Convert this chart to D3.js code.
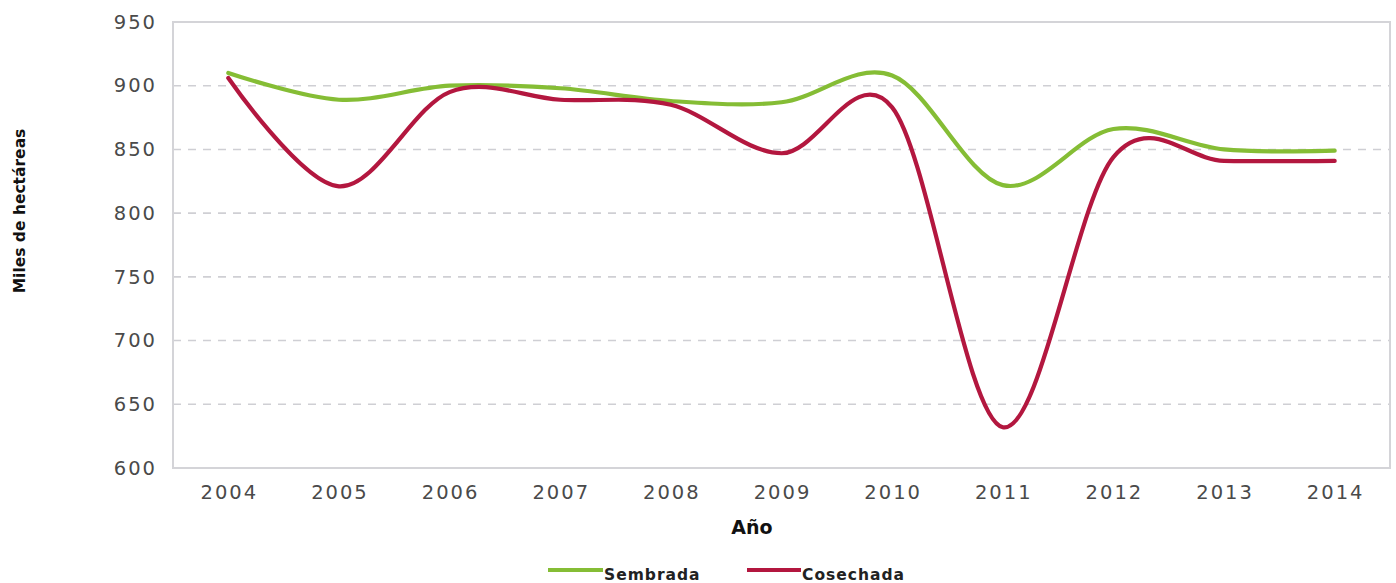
<!DOCTYPE html>
<html><head><meta charset="utf-8">
<script src="https://cdn.jsdelivr.net/npm/d3@7"></script>
<style>body{margin:0;background:#fff}svg{display:block}</style>
</head><body>
<svg id="c" width="1396" height="583"></svg>
<script>
const years = ["2004","2005","2006","2007","2008","2009","2010","2011","2012","2013","2014"];
const sembrada = [910, 889, 900, 898, 888, 887, 908, 822, 866, 850, 849];
const cosechada = [906, 821, 895, 889, 885, 847, 883, 632, 844, 841, 841];
const yTicks = [600, 650, 700, 750, 800, 850, 900, 950];
const seriesNames = ["Sembrada", "Cosechada"];
const colors = ["#85bd35", "#b3173f"];

const svg = d3.select("#c");
const L = 173, R = 1390, T = 22, B = 468;
const x = d3.scaleBand().domain(years).range([L, R]).padding(0);
const y = d3.scaleLinear().domain([600, 950]).range([B, T]);
const font = "'DejaVu Sans', sans-serif";

// gridlines
svg.append("g").selectAll("line").data(yTicks.filter(d => d > 600 && d < 950)).join("line")
  .attr("x1", L).attr("x2", R).attr("y1", d => y(d)).attr("y2", d => y(d))
  .attr("stroke", "#cfcfd4").attr("stroke-width", 1.6).attr("stroke-dasharray", "8,7");

// frame
svg.append("rect").attr("x", L).attr("y", T).attr("width", R - L).attr("height", B - T)
  .attr("fill", "none").attr("stroke", "#d4d4d8").attr("stroke-width", 2);

// y axis
const ya = svg.append("g").attr("transform", `translate(${L},0)`)
  .call(d3.axisLeft(y).tickValues(yTicks).tickSize(0).tickPadding(16));
ya.select(".domain").remove();
ya.selectAll("text").attr("font-family", font).attr("font-size", 19.5).attr("letter-spacing", 2).attr("fill", "#4a4a4a");

// x axis
const xa = svg.append("g").attr("transform", `translate(0,${B})`)
  .call(d3.axisBottom(x).tickSize(0).tickPadding(17));
xa.select(".domain").remove();
xa.selectAll("text").attr("font-family", font).attr("font-size", 19.5).attr("letter-spacing", 2).attr("dx", 1).attr("fill", "#4a4a4a");

// axis titles
svg.append("text").attr("x", 752).attr("y", 534).attr("text-anchor", "middle")
  .attr("font-family", font).attr("font-weight", "bold").attr("font-size", 19).attr("fill", "#111").text("Año");
svg.append("text").attr("transform", `translate(25,211) rotate(-90)`).attr("text-anchor", "middle")
  .attr("font-family", font).attr("font-weight", "bold").attr("font-size", 15.5).attr("fill", "#111").text("Miles de hectáreas");

// lines
const line = d3.line().x((d, i) => x(years[i]) + x.bandwidth() / 2).y(d => y(d)).curve(d3.curveCardinal.tension(0));
[sembrada, cosechada].forEach((s, k) => {
  svg.append("path").datum(s).attr("d", line).attr("fill", "none")
    .attr("stroke", colors[k]).attr("stroke-width", 4.2).attr("stroke-linecap", "round");
});

// legend
const lg = [{x: 548, t: 604}, {x: 747, t: 802}];
seriesNames.forEach((n, k) => {
  svg.append("line").attr("x1", lg[k].x).attr("x2", lg[k].t - 1).attr("y1", 570).attr("y2", 570)
    .attr("stroke", colors[k]).attr("stroke-width", 4);
  svg.append("text").attr("x", lg[k].t).attr("y", 580).attr("font-family", font).attr("font-weight", "bold")
    .attr("font-size", 15.5).attr("letter-spacing", 1).attr("fill", "#222").text(n);
});
</script>
</body></html>
